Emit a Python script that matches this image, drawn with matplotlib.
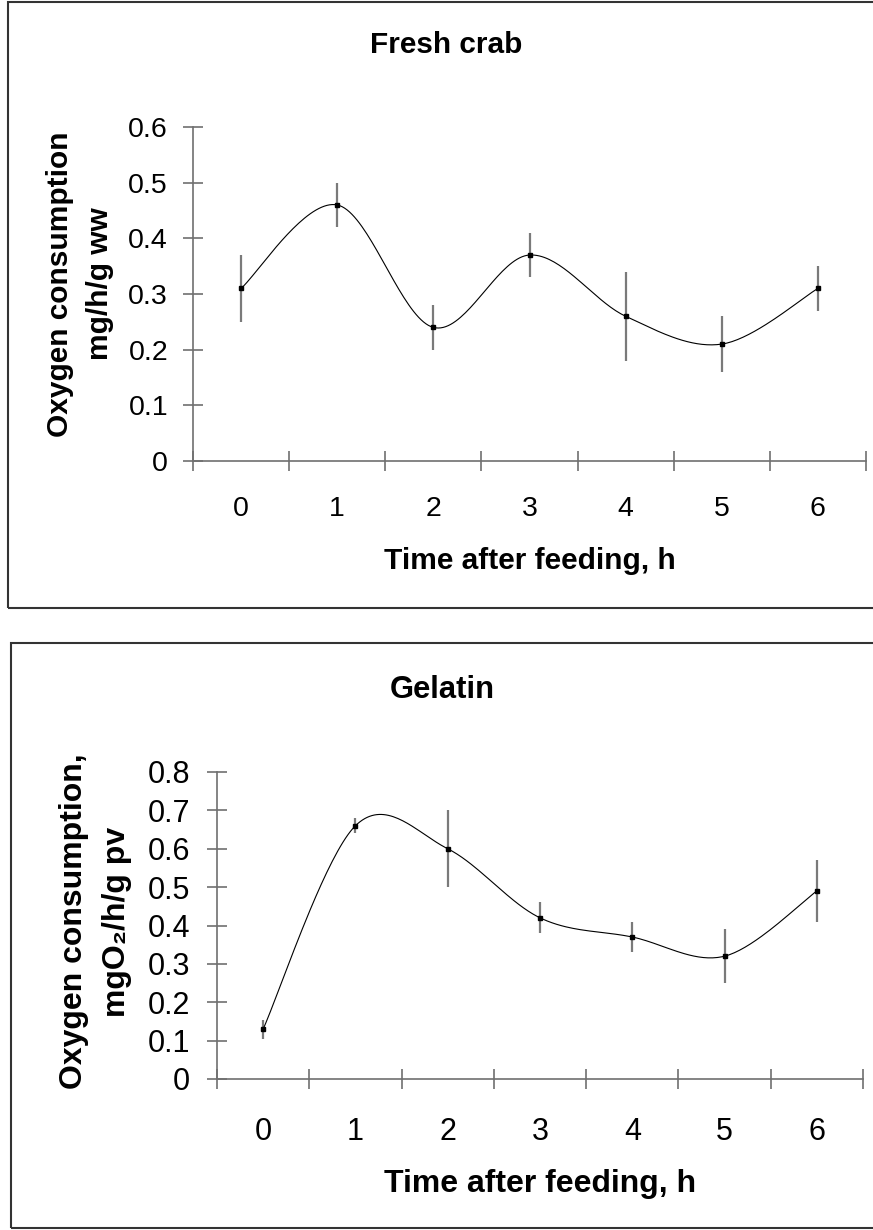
import numpy as np
import matplotlib
matplotlib.use("Agg")
import matplotlib.pyplot as plt
from matplotlib.patches import Rectangle

plt.rcParams['font.family'] = ['Liberation Sans', 'DejaVu Sans']

# ---------------- data ----------------
time_labels = ["0", "1", "2", "3", "4", "5", "6"]
crab_mean = [0.31, 0.46, 0.24, 0.37, 0.26, 0.21, 0.31]
crab_err = [0.06, 0.04, 0.04, 0.04, 0.08, 0.05, 0.04]
gel_mean = [0.13, 0.66, 0.60, 0.42, 0.37, 0.32, 0.49]
gel_err = [0.025, 0.02, 0.10, 0.04, 0.04, 0.07, 0.08]

crab_yticks = [0, 0.1, 0.2, 0.3, 0.4, 0.5, 0.6]
crab_yticklabels = ["0", "0.1", "0.2", "0.3", "0.4", "0.5", "0.6"]
gel_yticks = [0, 0.1, 0.2, 0.3, 0.4, 0.5, 0.6, 0.7, 0.8]
gel_yticklabels = ["0", "0.1", "0.2", "0.3", "0.4", "0.5", "0.6", "0.7", "0.8"]

W, H = 873, 1230
fig = plt.figure(figsize=(W / 100, H / 100), dpi=100)


def smooth(xs, ys, n=40):
    """Excel-style smoothed line (cubic Bezier through the points)."""
    P = np.column_stack([xs, ys]).astype(float)
    out = []
    m = len(P)
    for i in range(m - 1):
        p0 = P[max(i - 1, 0)]
        p1 = P[i]
        p2 = P[i + 1]
        p3 = P[min(i + 2, m - 1)]
        c1 = p1 + (p2 - p0) / 6.0
        c2 = p2 - (p3 - p1) / 6.0
        t = np.linspace(0, 1, n)[:, None]
        seg = ((1 - t) ** 3) * p1 + 3 * ((1 - t) ** 2) * t * c1 + 3 * (1 - t) * t ** 2 * c2 + t ** 3 * p2
        out.append(seg if i == 0 else seg[1:])
    seg = np.vstack(out)
    return seg[:, 0], seg[:, 1]


def box(left, top, bottom):
    fig.add_artist(Rectangle((left / W, 1 - bottom / H), (W + 20 - left) / W, (bottom - top) / H,
                             transform=fig.transFigure, fill=False, edgecolor='#333333',
                             linewidth=1.5, clip_on=False))


def panel(rect_px, means, errs, yticks, yticklabels, ylabel, fs, ypad, xpad,
          ylab_x, ylab_y, xlab_y):
    l, t, r, b = rect_px
    ax = fig.add_axes([l / W, 1 - b / H, (r - l) / W, (b - t) / H])
    x = np.arange(len(time_labels))
    axis_col = '#707070'
    ax.errorbar(x, means, yerr=errs, fmt='none', ecolor='#7a7a7a', elinewidth=1.6,
                capsize=0, zorder=2)
    sx, sy = smooth(x, means)
    ax.plot(sx, sy, color='black', linewidth=0.8, zorder=3)
    ax.plot(x, means, linestyle='none', marker='s', markersize=3.2, color='black', zorder=4)

    ax.set_xlim(-0.5, len(time_labels) - 0.5)
    ax.set_ylim(yticks[0], yticks[-1])
    ax.set_yticks(yticks)
    ax.set_yticklabels(yticklabels)
    ax.set_xticks(np.arange(-0.5, len(time_labels), 1.0))
    ax.set_xticklabels([])
    ax.set_xticks(x, minor=True)
    ax.set_xticklabels(time_labels, minor=True)

    for s in ('top', 'right'):
        ax.spines[s].set_visible(False)
    for s in ('left', 'bottom'):
        ax.spines[s].set_color(axis_col)
        ax.spines[s].set_linewidth(1.2)
    ax.tick_params(axis='both', which='major', direction='inout', length=14.4,
                   width=1.2, color=axis_col, labelsize=fs)
    ax.tick_params(axis='y', which='major', pad=ypad)
    ax.tick_params(axis='x', which='minor', length=0, pad=xpad, labelsize=fs)
    ax.set_facecolor('none')

    ax.set_ylabel(ylabel, fontsize=fs + 1, fontweight='bold', linespacing=1.55)
    ax.yaxis.set_label_coords(ylab_x, ylab_y)
    ax.set_xlabel("Time after feeding, h", fontsize=fs + 1, fontweight='bold')
    ax.xaxis.set_label_coords(0.5, xlab_y)
    return ax


# top panel
box(8, 2, 608)
panel((193, 127, 866, 461), crab_mean, crab_err, crab_yticks, crab_yticklabels,
      "Oxygen consumption\nmg/h/g ww", 20.5, 10.8, 25,
      -0.117, 0.53, -0.2575)
fig.text(446 / W, 1 - 53 / H, "Fresh crab", ha='center', va='baseline',
         fontsize=21.4, fontweight='bold')

# bottom panel
box(11, 643, 1228)
panel((217, 772, 863, 1079), gel_mean, gel_err, gel_yticks, gel_yticklabels,
      "Oxygen consumption,\nmgO\u2082/h/g pv", 22.0, 12.2, 27,
      -0.132, 0.513, -0.293)
fig.text(442 / W, 1 - 698 / H, "Gelatin", ha='center', va='baseline',
         fontsize=22.3, fontweight='bold')

fig.savefig("out.png", dpi=100)
